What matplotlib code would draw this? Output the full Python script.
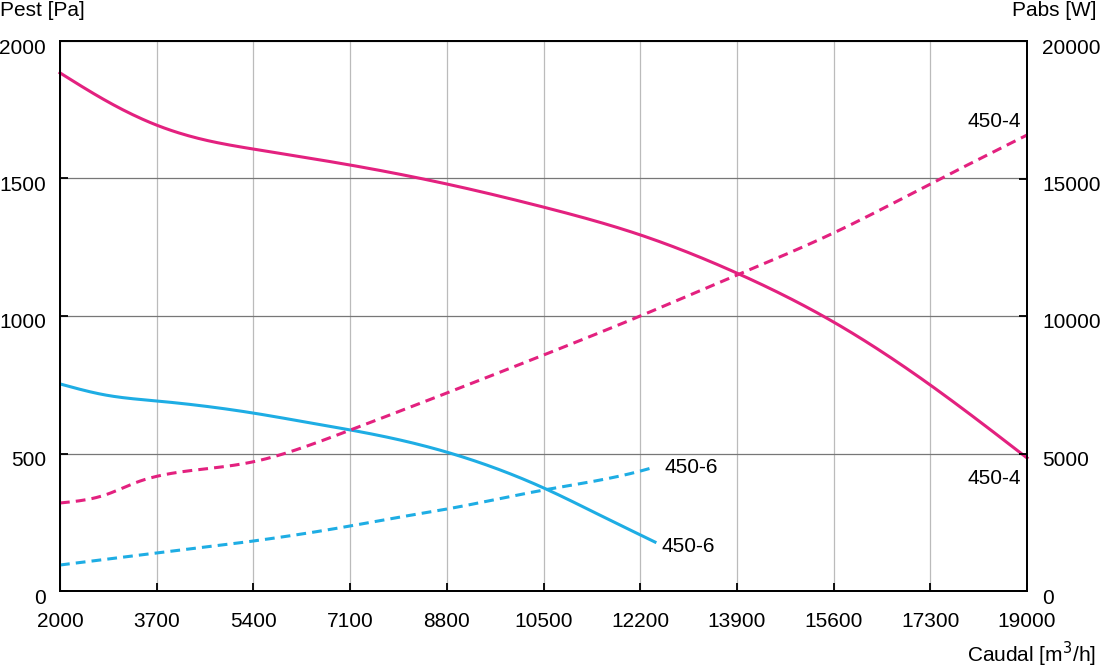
import matplotlib
matplotlib.use("Agg")
import matplotlib.pyplot as plt
import matplotlib.transforms as mtransforms
import numpy as np

plt.rcParams['font.family'] = ['Liberation Sans', 'DejaVu Sans']

# caudal [m3/h] / presion estatica [Pa] / potencia absorbida [W]
q_p4 = [2000, 2790, 3700, 4550, 5400, 7100, 8800, 10500, 12200, 13900, 15600, 17300, 19000]
pest_4 = [1884, 1785, 1694, 1640, 1607, 1549, 1480, 1396, 1295, 1156, 978, 749, 484]

q_w4 = [2000, 2790, 3370, 3700, 4550, 5400, 6300, 7100, 8800, 10500, 12200, 13900, 15600, 17300, 19000]
pabs_4 = [3200, 3490, 3970, 4170, 4440, 4700, 5240, 5850, 7200, 8580, 10000, 11490, 13020, 14800, 16580]

q_p6 = [2000, 2790, 3700, 5400, 6300, 7980, 8800, 9740, 10500, 11490, 12460]
pest_6 = [753, 713, 691, 647, 615, 549, 505, 440, 375, 276, 178]

q_w6 = [2000, 3700, 5400, 7100, 7980, 8800, 10500, 12200, 12460]
pabs_6 = [945, 1382, 1818, 2364, 2690, 2980, 3670, 4360, 4510]

xticks = [2000, 3700, 5400, 7100, 8800, 10500, 12200, 13900, 15600, 17300, 19000]

pink = '#E3217F'
blue = '#1EADE4'


def smooth(x, y, n=400):
    # natural cubic spline through the read points
    x = np.asarray(x, float)
    y = np.asarray(y, float)
    k = len(x)
    h = np.diff(x)
    A = np.zeros((k, k))
    b = np.zeros(k)
    A[0, 0] = A[-1, -1] = 1
    for i in range(1, k - 1):
        A[i, i - 1] = h[i - 1]
        A[i, i] = 2 * (h[i - 1] + h[i])
        A[i, i + 1] = h[i]
        b[i] = 6 * ((y[i + 1] - y[i]) / h[i] - (y[i] - y[i - 1]) / h[i - 1])
    M = np.linalg.solve(A, b)
    xs = np.linspace(x[0], x[-1], n)
    j = np.clip(np.searchsorted(x, xs) - 1, 0, k - 2)
    a = x[j + 1] - xs
    c = xs - x[j]
    ys = (M[j] * a**3 + M[j + 1] * c**3) / (6 * h[j]) \
        + (y[j] / h[j] - M[j] * h[j] / 6) * a \
        + (y[j + 1] / h[j] - M[j + 1] * h[j] / 6) * c
    return xs, ys


fs = 15

fig = plt.figure(figsize=(11.04, 6.67), dpi=100)
ax = fig.add_axes([60 / 1104, 1 - 591 / 667, 967 / 1104, 550 / 667])
ax2 = ax.twinx()

ax.set_xlim(2000, 19000)
ax.set_ylim(0, 2000)
ax2.set_ylim(0, 20000)

ax.set_xticks(xticks)
ax.set_yticks([0, 500, 1000, 1500, 2000])
ax2.set_yticks([0, 5000, 10000, 15000, 20000])

for a in (ax, ax2):
    for s in a.spines.values():
        s.set_linewidth(1.3)
        s.set_color('black')
    a.tick_params(direction='in', length=6, width=1.3, labelsize=fs)
ax.tick_params(axis='x', pad=15)
ax.tick_params(axis='y', pad=10)
ax2.tick_params(axis='y', pad=11)

# y tick labels sit a little below their ticks
shift = mtransforms.ScaledTranslation(0, -5 / 100, fig.dpi_scale_trans)
for a in (ax, ax2):
    for lab in a.get_yticklabels():
        lab.set_transform(lab.get_transform() + shift)

ax.grid(axis='x', color='#BBBBBB', lw=0.9)
ax.grid(axis='y', color='#777777', lw=0.9)
ax.set_axisbelow(True)

lw = 2.2
ax.plot(*smooth(q_p4, pest_4), color=pink, lw=lw, clip_on=False)
ax.plot(*smooth(q_p6, pest_6), color=blue, lw=lw)
ax2.plot(*smooth(q_w4, pabs_4), color=pink, lw=lw, ls=(0, (3.2, 2)))
ax2.plot(*smooth(q_w6, pabs_6), color=blue, lw=lw, ls=(0, (3.2, 2)))

ax.text(18900, 1709, '450-4', fontsize=fs, ha='right', va='center')
ax.text(18900, 445, '450-4', fontsize=fs, ha='right', va='top')
ax.text(12620, 450, '450-6', fontsize=fs, ha='left', va='center')
ax.text(12570, 162, '450-6', fontsize=fs, ha='left', va='center')

fig.text(0, 1 - 11 / 667, 'Pest [Pa]', fontsize=fs, ha='left', va='center')
fig.text(1096 / 1104, 1 - 11 / 667, 'Pabs [W]', fontsize=fs, ha='right', va='center')
fig.text(1096 / 1104, 1 - 654 / 667, 'Caudal [m$^3$/h]', fontsize=fs, ha='right', va='center')

fig.savefig('out.png', dpi=100)
